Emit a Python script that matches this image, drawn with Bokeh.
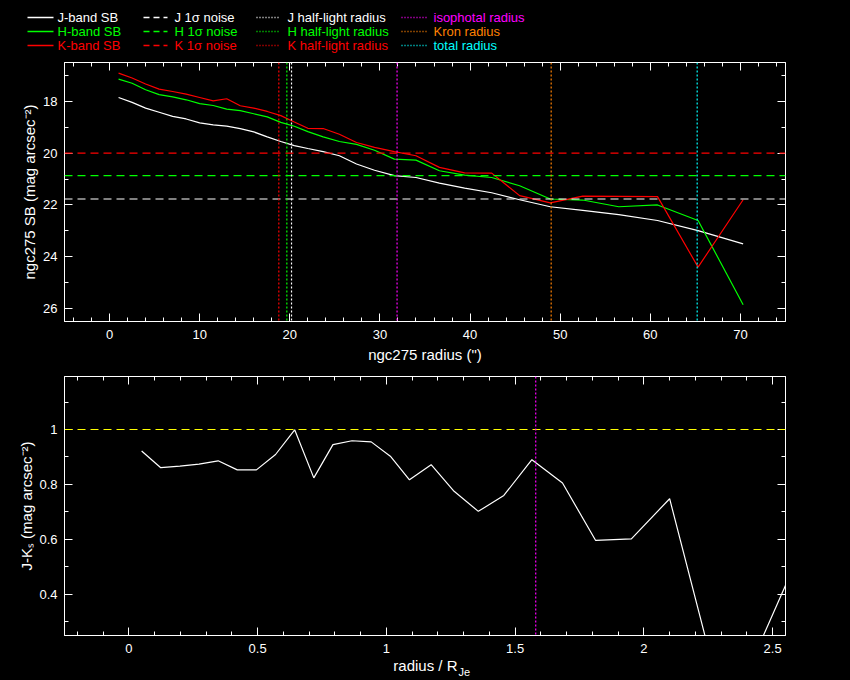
from bokeh.plotting import figure
from bokeh.layouts import column
from bokeh.models import (Range1d, Span, LinearAxis, SingleIntervalTicker,
                          CustomJSTickFormatter)
from bokeh.embed import file_html
from bokeh.resources import INLINE
from bokeh.core.properties import value

# ---------------- data ----------------
radius = [1.0, 2.5, 4.0, 5.5, 7.0, 8.5, 10.0, 11.5, 13.0, 14.5, 16.0, 17.5, 19.0, 20.5,
          22.0, 23.7, 25.5, 27.4, 29.4, 31.6, 34.0, 36.6, 39.4, 42.4, 45.5, 48.9,
          52.5, 56.5, 60.8, 65.3, 70.3]
sb_J = [17.85, 18.04, 18.26, 18.42, 18.58, 18.68, 18.83, 18.91, 18.96, 19.05, 19.18,
        19.37, 19.55, 19.71, 19.82, 19.94, 20.10, 20.42, 20.66, 20.87, 20.94, 21.16,
        21.35, 21.53, 21.80, 22.07, 22.21, 22.37, 22.60, 22.99, 23.50]
sb_H = [17.14, 17.30, 17.55, 17.74, 17.83, 17.94, 18.09, 18.16, 18.30, 18.36, 18.48,
        18.60, 18.81, 18.96, 19.17, 19.37, 19.55, 19.66, 19.89, 20.23, 20.27, 20.68,
        20.85, 20.94, 21.26, 21.77, 21.81, 22.07, 22.00, 22.60, 25.85]
sb_K = [16.91, 17.10, 17.33, 17.53, 17.62, 17.72, 17.85, 17.98, 17.90, 18.17, 18.26,
        18.39, 18.55, 18.80, 19.04, 19.05, 19.27, 19.59, 19.78, 19.94, 20.10, 20.55,
        20.76, 20.77, 21.64, 21.92, 21.66, 21.67, 21.68, 24.40, 21.80]
color_JK = [0.922, 0.861, 0.867, 0.874, 0.886, 0.853, 0.853, 0.909, 0.999, 0.824, 0.945,
            0.959, 0.955, 0.903, 0.817, 0.872, 0.775, 0.702, 0.760, 0.890, 0.805, 0.596,
            0.602, 0.748, 0.19, 0.16, 0.54, 0.70, 0.92, -1.41, 1.70]

noise_J, noise_H, noise_K = 21.77, 20.87, 20.0
rhalf_J, rhalf_H, rhalf_K = 20.19, 19.67, 18.78
r_iso, r_kron, r_total = 31.9, 49.0, 65.2
jk_ref = 1.0

legend_labels = [["J-band SB", "H-band SB", "K-band SB"],
                 ["J 1\u03c3 noise", "H 1\u03c3 noise", "K 1\u03c3 noise"],
                 ["J half-light radius", "H half-light radius", "K half-light radius"],
                 ["isophotal radius", "Kron radius", "total radius"]]
xlabel_main, xlabel_sub = "radius / R", "Je"

# ---------------- style ----------------
WHITE, GREEN, RED = "#ffffff", "#00ff00", "#ff0000"
MAGENTA, ORANGE, CYAN, YELLOW = "#ff00ff", "#ff8000", "#00ffff", "#ffff00"
FONT = "Liberation Sans"
FS = "13px"
AFS = "15px"
W = 850
DASH = "8 5"
DOT = "2 2"

fmt = CustomJSTickFormatter(code="return String(+tick.toFixed(3));")


def setup_axes(p, xint, xminor, yint, yminor, xlabel, ylabel, ylab_standoff):
    bottom_ax = p.below[0]
    left_ax = p.left[0]
    bottom_ax.ticker = SingleIntervalTicker(interval=xint, num_minor_ticks=xminor)
    left_ax.ticker = SingleIntervalTicker(interval=yint, num_minor_ticks=yminor)
    top_ax = LinearAxis(ticker=SingleIntervalTicker(interval=xint, num_minor_ticks=xminor))
    right_ax = LinearAxis(ticker=SingleIntervalTicker(interval=yint, num_minor_ticks=yminor))
    p.add_layout(top_ax, "above")
    p.add_layout(right_ax, "right")
    for ax in (bottom_ax, left_ax, top_ax, right_ax):
        ax.axis_line_color = WHITE
        ax.major_tick_line_color = WHITE
        ax.minor_tick_line_color = WHITE
        ax.major_tick_in = 8
        ax.major_tick_out = 0
        ax.minor_tick_in = 4
        ax.minor_tick_out = 0
        ax.major_label_text_color = WHITE
        ax.major_label_text_font = FONT
        ax.major_label_text_font_size = FS
        ax.axis_label_text_color = WHITE
        ax.axis_label_text_font = FONT
        ax.axis_label_text_font_size = AFS
        ax.axis_label_text_font_style = "normal"
        ax.formatter = fmt
    for ax in (top_ax, right_ax):
        ax.major_label_text_font_size = "0px"
        ax.major_label_standoff = 0
        ax.major_label_text_color = None
    if xlabel:
        bottom_ax.axis_label = xlabel
    left_ax.axis_label = ylabel
    bottom_ax.major_label_standoff = 8
    bottom_ax.axis_label_standoff = 4
    left_ax.major_label_standoff = 7
    left_ax.axis_label_standoff = ylab_standoff
    p.grid.visible = False


def base_fig(height, xr, yr, top, bottom):
    p = figure(width=W, height=height, x_range=xr, y_range=yr,
               output_backend="svg", toolbar_location=None,
               background_fill_color="black", border_fill_color="black",
               outline_line_color=WHITE, min_border_left=64, min_border_right=65,
               min_border_top=top, min_border_bottom=bottom)
    return p


def text_strip(height):
    s = figure(width=W, height=height, x_range=Range1d(0, W), y_range=Range1d(height, 0),
               x_axis_type=None, y_axis_type=None, output_backend="svg",
               toolbar_location=None, min_border=0, min_border_left=0, min_border_right=0,
               min_border_top=0, min_border_bottom=0, outline_line_color=None,
               background_fill_color="black", border_fill_color="black")
    s.grid.visible = False
    return s


# ---------------- legend strip ----------------
leg = text_strip(56)
cols_x = [(27, 53, 57, None), (143, 167, 174, "6 4"), (256, 280, 287, "1 2"), (401, 426, 433, "1 2")]
rows_y = [17, 31, 45]
colors = [[WHITE, GREEN, RED], [WHITE, GREEN, RED], [WHITE, GREEN, RED], [MAGENTA, ORANGE, CYAN]]
for ci, (x0, x1, tx, dash) in enumerate(cols_x):
    for ri, y in enumerate(rows_y):
        c = colors[ci][ri]
        kw = {} if dash is None else {"line_dash": dash}
        leg.line([x0, x1], [y, y], line_color=c, line_width=1.5 if dash is None else 1.3, **kw)
        leg.text(x=[tx], y=[y], text=[legend_labels[ci][ri]], text_color=c,
                 text_font=value(FONT), text_font_size=value(FS),
                 text_baseline="middle", text_align="left")

# ---------------- top panel: surface brightness ----------------
top = base_fig(310, Range1d(-5, 75), Range1d(26.5, 16.5), 6, 45)
setup_axes(top, 10, 5, 2, 2, 'ngc275 radius (")', "ngc275 SB (mag arcsec\u207b\u00b2)", 2)

top.line(radius, sb_J, line_color=WHITE, line_width=1.2)
top.line(radius, sb_H, line_color=GREEN, line_width=1.2)
top.line(radius, sb_K, line_color=RED, line_width=1.2)

for loc, c in [(noise_K, RED), (noise_H, GREEN), (noise_J, WHITE)]:
    top.add_layout(Span(location=loc, dimension="width", line_color=c,
                        line_dash=DASH, line_width=1.2))
for loc, c in [(rhalf_K, RED), (rhalf_H, GREEN), (rhalf_J, WHITE),
               (r_iso, MAGENTA), (r_kron, ORANGE), (r_total, CYAN)]:
    top.add_layout(Span(location=loc, dimension="height", line_color=c,
                        line_dash=DOT, line_width=1.2))

# ---------------- bottom panel: J-K colour ----------------
bot = base_fig(290, Range1d(-0.25, 2.55), Range1d(0.25, 1.193), 10, 21)
setup_axes(bot, 0.5, 5, 0.2, 2, "", "J-K\u209b (mag arcsec\u207b\u00b2)", 1)

x_norm = [r / rhalf_J for r in radius]
bot.line(x_norm, color_JK, line_color=WHITE, line_width=1.2)
bot.add_layout(Span(location=jk_ref, dimension="width", line_color=YELLOW,
                    line_dash=DASH, line_width=1.2))
bot.add_layout(Span(location=r_iso / rhalf_J, dimension="height", line_color=MAGENTA,
                    line_dash=DOT, line_width=1.2))

# ---------------- bottom x-axis title (with subscript) ----------------
lab = text_strip(24)
lab.text(x=[457], y=[9], text=[xlabel_main], text_color=WHITE, text_font=value(FONT),
         text_font_size=value(AFS), text_align="right", text_baseline="middle")
lab.text(x=[458], y=[15], text=[xlabel_sub], text_color=WHITE, text_font=value(FONT),
         text_font_size=value("11px"), text_align="left", text_baseline="middle")

layout = column(leg, column(top, bot, spacing=0), lab, spacing=0)
html = file_html(layout, INLINE, title="ngc275")
html = html.replace("</head>", "<style>html,body{background:#000;}</style></head>", 1)
open("out.html", "w").write(html)
